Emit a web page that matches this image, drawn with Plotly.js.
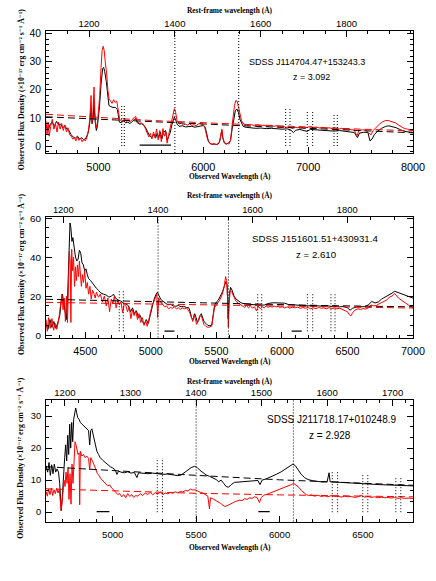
<!DOCTYPE html>
<html><head><meta charset="utf-8">
<script src="https://cdn.plot.ly/plotly-3.0.1.min.js"></script>
<style>html,body{margin:0;padding:0;background:#fff}#chart{width:436px;height:581px}</style>
</head><body><div id="chart"></div>
<script>
// ---------------- DATA ----------------
const objNames = ["SDSS J114704.47+153243.3", "SDSS J151601.51+430931.4", "SDSS J211718.17+010248.9"];
const redshifts = [3.092, 2.610, 2.928];
const obsRanges = [[4500, 8000], [4200, 7000], [4600, 6800]];
const fluxRanges = [[-2.49, 40.85], [-1.2, 60.8], [-2.9, 35.0]];
const obsTickStep = [1000, 500, 500];
const restTickStep = [200, 200, 100];
const fluxTickStep = [10, 20, 10];

// Panel 1 spectra [observed wavelength (A), flux]
const spec1Black = [[4500,7.5],[4520,5.5],[4540,7.8],[4560,8.5],[4580,7.0],[4600,8.8],[4620,7.5],[4640,7.8],[4660,6.5],[4680,7.2],[4700,6.0],[4720,5.5],[4740,4.0],[4760,3.2],[4780,2.8],[4800,3.5],[4820,2.5],[4840,3.0],[4860,2.2],[4880,2.8],[4900,4.5],[4915,7.5],[4930,13.5],[4940,8.0],[4950,10.0],[4958,16.0],[4968,9.0],[4980,5.5],[4990,7.0],[5000,10.0],[5010,14.0],[5025,22.0],[5040,27.5],[5050,28.0],[5060,26.5],[5075,23.0],[5090,17.5],[5100,14.5],[5120,14.0],[5140,13.7],[5160,13.8],[5180,13.0],[5190,11.0],[5200,8.5],[5220,8.3],[5240,9.0],[5260,8.2],[5280,8.5],[5300,8.0],[5320,8.7],[5340,9.6],[5355,9.8],[5370,8.3],[5390,7.8],[5410,7.9],[5430,7.5],[5450,6.5],[5470,4.8],[5490,3.5],[5510,3.0],[5530,4.2],[5545,2.8],[5560,4.5],[5575,3.0],[5590,5.0],[5605,2.5],[5620,4.8],[5640,5.5],[5655,2.0],[5670,3.5],[5685,4.8],[5700,7.5],[5712,9.5],[5724,10.3],[5735,9.5],[5750,7.8],[5770,7.0],[5800,7.2],[5830,6.8],[5860,6.9],[5890,7.0],[5920,6.7],[5950,7.0],[5980,7.3],[6000,7.3],[6020,6.5],[6035,4.0],[6050,1.5],[6070,0.8],[6090,0.6],[6110,0.7],[6130,0.5],[6150,1.0],[6165,3.0],[6175,5.5],[6185,3.0],[6200,1.2],[6220,0.8],[6240,1.0],[6260,2.0],[6275,6.0],[6290,10.0],[6305,12.5],[6320,13.2],[6335,12.0],[6350,9.5],[6365,8.0],[6380,7.0],[6400,6.7],[6450,6.5],[6500,6.3],[6550,6.4],[6600,6.2],[6650,6.3],[6700,6.1],[6750,6.0],[6800,6.1],[6830,5.8],[6860,4.8],[6880,5.6],[6920,5.9],[6960,5.6],[6990,5.2],[7020,5.9],[7060,5.8],[7100,5.9],[7150,5.7],[7200,5.5],[7250,5.3],[7300,5.5],[7350,5.2],[7400,5.0],[7440,4.8],[7470,3.0],[7490,4.6],[7530,4.9],[7570,4.8],[7590,1.8],[7610,2.5],[7630,4.0],[7660,5.2],[7700,6.3],[7740,7.0],[7770,7.2],[7800,7.0],[7840,6.5],[7880,5.8],[7920,5.2],[7960,5.0],[8000,4.8]];
const spec1Red = [[4500,9.0],[4510,4.0],[4520,8.5],[4530,3.5],[4545,7.0],[4560,9.5],[4575,6.0],[4590,8.0],[4605,5.0],[4620,8.5],[4635,6.0],[4650,8.0],[4665,5.5],[4680,7.5],[4695,5.0],[4710,6.5],[4725,4.0],[4740,3.5],[4755,2.5],[4770,3.0],[4785,1.8],[4800,3.2],[4815,2.0],[4830,2.8],[4845,1.5],[4860,2.5],[4875,1.8],[4890,3.0],[4905,5.5],[4918,10.0],[4930,18.0],[4938,8.0],[4948,12.0],[4958,21.0],[4966,12.0],[4978,6.5],[4990,8.0],[5000,12.0],[5012,18.0],[5025,28.0],[5035,34.0],[5045,35.5],[5055,34.0],[5065,30.0],[5078,26.0],[5090,20.0],[5100,17.0],[5115,16.0],[5130,15.2],[5145,16.5],[5160,15.5],[5175,16.0],[5185,13.5],[5195,10.5],[5205,9.0],[5220,9.5],[5235,8.8],[5250,9.6],[5265,8.7],[5280,9.2],[5300,8.6],[5320,9.4],[5340,10.2],[5355,10.6],[5370,8.8],[5390,8.0],[5410,8.2],[5430,7.6],[5450,6.0],[5465,4.5],[5480,3.2],[5495,4.5],[5510,2.5],[5525,5.0],[5540,3.0],[5555,6.0],[5570,2.2],[5585,5.5],[5600,1.5],[5615,6.2],[5630,3.5],[5645,5.0],[5655,1.0],[5670,4.0],[5685,6.5],[5700,9.5],[5712,12.0],[5724,13.3],[5736,12.0],[5750,9.0],[5770,7.8],[5790,8.2],[5810,7.5],[5830,7.8],[5850,7.4],[5870,7.9],[5890,7.3],[5910,7.6],[5930,7.2],[5950,7.8],[5970,8.0],[5990,7.8],[6010,7.2],[6025,5.0],[6040,2.5],[6060,1.0],[6080,0.6],[6100,0.9],[6120,0.5],[6140,0.8],[6155,1.5],[6168,4.0],[6178,6.0],[6188,3.0],[6200,1.2],[6215,0.6],[6230,0.9],[6245,0.7],[6260,2.0],[6272,6.5],[6285,11.0],[6298,14.5],[6310,16.2],[6322,16.0],[6335,14.0],[6350,11.0],[6365,9.0],[6380,8.0],[6400,7.6],[6430,7.4],[6460,7.6],[6490,7.2],[6520,7.5],[6550,7.1],[6580,7.4],[6610,7.0],[6640,7.3],[6670,7.0],[6700,7.2],[6730,6.8],[6760,7.0],[6790,6.6],[6820,6.9],[6850,6.2],[6870,6.7],[6900,6.5],[6930,6.8],[6960,6.4],[6990,6.7],[7020,6.9],[7050,6.5],[7080,6.7],[7110,6.4],[7140,6.6],[7170,6.3],[7200,6.5],[7230,6.2],[7260,6.4],[7290,6.0],[7320,6.3],[7350,6.0],[7380,6.1],[7410,5.8],[7440,5.7],[7465,3.6],[7485,5.5],[7520,5.8],[7550,5.6],[7580,4.5],[7600,4.0],[7620,5.5],[7650,6.8],[7680,7.8],[7710,8.6],[7740,9.1],[7770,9.0],[7800,8.6],[7830,8.3],[7860,7.5],[7890,6.8],[7920,6.2],[7950,6.0],[7980,5.6],[8000,5.5]];
const cont1Black = [[4500,10.4],[5000,9.5],[5500,8.6],[6000,7.8],[6500,7.0],[7000,6.3],[7500,5.6],[8000,4.7]];
const cont1Red = [[4500,11.3],[5000,10.1],[5500,9.1],[6000,8.3],[6500,7.5],[7000,6.8],[7500,6.0],[8000,5.4]];

// Panel 2 spectra
const spec2Black = [[4200,6.0],[4215,3.0],[4230,8.0],[4245,4.0],[4260,7.0],[4275,3.5],[4290,6.5],[4305,10.0],[4315,17.0],[4325,21.0],[4335,17.0],[4345,13.0],[4355,8.0],[4365,20.0],[4375,45.0],[4383,57.5],[4390,55.0],[4398,48.0],[4405,50.0],[4415,44.0],[4425,40.0],[4435,38.0],[4445,39.0],[4455,43.5],[4465,42.0],[4475,37.0],[4485,36.0],[4495,33.0],[4505,34.0],[4515,31.0],[4525,29.0],[4540,28.0],[4555,26.5],[4570,25.0],[4585,24.0],[4600,23.0],[4620,21.5],[4640,21.0],[4660,20.5],[4680,19.5],[4700,20.0],[4715,21.0],[4730,19.0],[4750,18.0],[4770,17.5],[4790,16.5],[4810,16.0],[4830,15.0],[4845,12.0],[4860,14.0],[4875,11.0],[4890,12.5],[4905,9.0],[4920,10.0],[4935,7.0],[4950,5.5],[4965,8.0],[4980,6.0],[4995,10.0],[5010,15.0],[5025,18.5],[5040,21.0],[5050,22.0],[5060,20.5],[5075,18.5],[5090,17.5],[5110,16.5],[5130,15.5],[5150,15.8],[5170,15.0],[5190,14.8],[5210,15.2],[5230,14.5],[5250,14.8],[5270,14.2],[5290,14.0],[5300,12.0],[5310,9.0],[5322,8.0],[5335,11.0],[5345,9.0],[5355,6.5],[5365,7.5],[5375,10.0],[5385,11.0],[5395,8.5],[5405,7.0],[5420,6.0],[5435,5.0],[5450,4.8],[5465,5.2],[5475,10.0],[5485,15.0],[5500,17.0],[5515,18.0],[5530,20.0],[5545,22.0],[5560,25.0],[5572,27.5],[5582,26.0],[5590,8.5],[5598,20.0],[5608,24.5],[5620,23.0],[5635,20.0],[5650,18.5],[5670,17.5],[5690,16.5],[5720,16.0],[5750,15.8],[5780,15.5],[5810,15.2],[5840,15.3],[5870,15.5],[5900,16.3],[5930,16.6],[5960,16.5],[5990,16.3],[6020,16.4],[6050,15.7],[6080,15.5],[6110,15.3],[6140,15.4],[6170,15.2],[6200,15.0],[6230,15.2],[6260,15.0],[6290,15.1],[6320,14.8],[6350,15.0],[6380,14.7],[6410,14.9],[6440,14.5],[6470,14.7],[6500,14.0],[6520,12.8],[6540,13.8],[6570,14.5],[6600,14.7],[6630,14.6],[6660,15.5],[6685,17.3],[6710,16.5],[6735,17.0],[6760,18.5],[6790,19.5],[6815,20.5],[6840,21.5],[6860,22.5],[6880,22.0],[6900,21.5],[6930,21.0],[6960,20.3],[7000,19.0]];
const spec2Red = [[4200,8.0],[4210,2.0],[4220,9.0],[4232,3.5],[4245,8.5],[4258,2.5],[4270,6.0],[4282,3.0],[4295,7.0],[4305,12.0],[4315,19.0],[4322,21.0],[4330,13.0],[4340,19.0],[4348,7.0],[4356,20.0],[4364,6.5],[4372,40.0],[4378,43.0],[4385,38.0],[4390,6.5],[4396,44.0],[4403,33.0],[4410,40.0],[4418,25.0],[4425,35.0],[4432,28.0],[4440,36.0],[4448,30.0],[4455,38.0],[4462,33.0],[4470,25.0],[4478,31.0],[4486,27.0],[4495,33.0],[4505,24.0],[4515,27.0],[4525,21.0],[4535,25.0],[4545,18.5],[4555,23.0],[4565,21.5],[4575,19.0],[4585,22.0],[4600,19.5],[4615,21.0],[4630,17.0],[4645,20.0],[4660,15.0],[4672,19.0],[4685,12.0],[4698,18.5],[4710,16.0],[4722,20.0],[4735,14.0],[4748,18.0],[4760,15.5],[4772,17.0],[4785,11.5],[4798,16.5],[4810,15.0],[4822,12.0],[4835,14.5],[4848,8.5],[4860,13.0],[4872,10.0],[4885,12.5],[4898,8.0],[4910,11.0],[4922,6.5],[4935,9.0],[4948,5.0],[4960,7.5],[4972,4.5],[4985,8.0],[4998,12.0],[5010,15.5],[5022,17.0],[5035,19.5],[5045,21.0],[5052,9.0],[5060,19.0],[5075,17.0],[5090,16.0],[5105,14.5],[5120,15.0],[5135,13.5],[5150,14.2],[5165,13.8],[5180,14.5],[5195,13.5],[5210,14.0],[5225,13.2],[5240,14.0],[5255,13.5],[5270,13.8],[5285,13.0],[5300,11.0],[5310,8.5],[5320,7.0],[5330,10.5],[5340,8.5],[5350,5.5],[5360,7.5],[5372,9.5],[5385,10.0],[5395,7.5],[5405,5.5],[5420,4.5],[5435,4.0],[5450,4.2],[5465,4.8],[5475,9.5],[5485,14.0],[5500,15.5],[5515,17.0],[5530,18.5],[5545,21.0],[5560,25.0],[5570,30.0],[5578,28.0],[5586,18.0],[5591,4.0],[5597,16.0],[5605,23.0],[5618,22.0],[5632,19.5],[5648,17.5],[5665,16.5],[5685,15.5],[5700,15.0],[5715,14.2],[5730,15.2],[5745,14.0],[5760,15.0],[5775,13.8],[5790,14.6],[5805,12.5],[5820,14.8],[5835,13.5],[5850,14.5],[5865,14.0],[5880,15.0],[5895,14.2],[5910,14.9],[5925,14.3],[5940,15.0],[5955,14.4],[5970,14.8],[5985,14.2],[6000,14.6],[6020,14.0],[6040,14.5],[6060,13.8],[6080,14.3],[6100,14.0],[6120,14.4],[6140,13.7],[6160,14.2],[6180,13.8],[6200,14.1],[6220,13.5],[6240,14.0],[6260,13.6],[6280,14.2],[6300,13.8],[6320,14.0],[6340,13.5],[6360,14.1],[6380,13.6],[6400,13.9],[6420,13.5],[6440,13.8],[6460,13.2],[6480,13.0],[6500,12.0],[6515,10.5],[6525,9.8],[6540,11.5],[6560,13.0],[6580,13.5],[6600,13.2],[6620,13.6],[6640,13.4],[6660,14.0],[6680,15.5],[6700,15.0],[6720,15.2],[6740,16.0],[6760,16.8],[6780,17.5],[6800,18.0],[6820,19.5],[6840,20.0],[6860,21.3],[6875,20.0],[6890,19.0],[6910,18.0],[6930,17.0],[6950,16.0],[6970,15.2],[7000,14.2]];
const cont2Black = [[4200,18.4],[4800,17.4],[5600,16.2],[6300,15.2],[7000,14.5]];
const cont2Red = [[4200,16.8],[4800,16.1],[5600,15.2],[6300,14.5],[7000,13.9]];

// Panel 3 spectra
const spec3Black = [[4600,14.5],[4610,12.5],[4618,15.5],[4626,11.5],[4634,14.8],[4642,12.0],[4650,15.0],[4658,12.5],[4666,13.5],[4675,12.5],[4682,9.0],[4688,2.0],[4692,0.5],[4698,5.0],[4705,13.5],[4712,17.0],[4718,21.0],[4724,16.0],[4730,24.0],[4736,18.0],[4742,27.5],[4748,20.0],[4754,28.0],[4760,22.0],[4766,29.0],[4772,30.5],[4778,32.5],[4784,31.0],[4790,29.5],[4798,29.0],[4806,28.0],[4815,27.5],[4825,27.0],[4835,26.5],[4845,26.0],[4855,25.5],[4862,21.0],[4868,25.5],[4875,26.0],[4885,23.5],[4895,21.0],[4905,19.0],[4915,18.0],[4925,17.0],[4940,16.2],[4955,15.5],[4970,14.8],[4985,14.2],[5000,13.8],[5015,13.2],[5025,11.8],[5035,12.8],[5050,12.5],[5070,12.3],[5090,12.6],[5110,12.2],[5130,12.4],[5145,10.8],[5155,12.3],[5180,12.1],[5210,12.0],[5240,12.2],[5270,11.9],[5300,11.8],[5330,11.9],[5360,11.6],[5390,11.4],[5410,11.6],[5430,12.3],[5450,13.2],[5470,13.9],[5490,14.3],[5505,14.0],[5520,13.2],[5540,12.3],[5560,11.6],[5580,11.2],[5600,10.8],[5620,10.2],[5635,9.5],[5650,10.0],[5665,9.0],[5680,8.0],[5695,7.8],[5710,8.6],[5730,9.3],[5760,9.4],[5790,9.6],[5820,9.5],[5850,9.8],[5870,9.9],[5883,8.6],[5895,10.0],[5920,10.4],[5950,11.0],[5980,11.8],[6010,12.6],[6040,13.6],[6060,14.5],[6080,15.0],[6095,14.5],[6110,13.2],[6130,11.8],[6150,10.8],[6170,10.2],[6200,9.8],[6230,9.6],[6260,9.4],[6285,9.5],[6297,12.3],[6303,9.5],[6330,9.4],[6360,9.3],[6400,9.3],[6440,9.2],[6480,9.0],[6520,8.9],[6560,8.7],[6600,8.6],[6650,8.5],[6700,8.4],[6750,8.3],[6800,8.2]];
const spec3Red = [[4600,6.5],[4608,5.0],[4616,7.2],[4624,5.5],[4632,7.5],[4640,5.2],[4648,7.0],[4656,5.8],[4664,7.5],[4672,6.0],[4680,7.2],[4686,3.0],[4690,0.5],[4696,3.0],[4702,7.0],[4708,10.0],[4714,8.0],[4720,12.5],[4726,9.0],[4732,14.0],[4738,4.0],[4744,12.0],[4750,2.5],[4756,15.0],[4762,9.0],[4768,18.5],[4774,22.0],[4780,21.0],[4786,19.5],[4792,18.0],[4798,18.5],[4802,2.3],[4806,19.0],[4815,17.5],[4825,18.0],[4835,17.0],[4845,17.5],[4855,16.8],[4862,13.2],[4868,17.0],[4878,16.0],[4888,15.0],[4898,13.5],[4908,12.0],[4918,11.5],[4928,10.5],[4938,10.0],[4948,9.3],[4958,9.0],[4970,8.2],[4982,8.5],[4994,7.5],[5006,7.0],[5018,6.2],[5030,5.5],[5042,5.8],[5054,4.8],[5066,5.5],[5078,4.5],[5090,5.8],[5102,4.9],[5114,5.5],[5126,4.6],[5138,5.2],[5150,5.0],[5165,5.8],[5180,5.2],[5195,6.0],[5210,5.5],[5225,6.2],[5240,5.4],[5255,6.1],[5270,5.6],[5285,6.3],[5300,5.5],[5315,6.0],[5330,5.7],[5345,6.2],[5360,5.9],[5375,6.4],[5390,6.0],[5405,6.5],[5420,6.3],[5435,6.8],[5450,6.6],[5465,7.2],[5480,6.9],[5495,7.0],[5510,6.5],[5525,6.2],[5540,6.0],[5555,5.5],[5570,5.0],[5580,1.0],[5586,4.5],[5600,4.2],[5615,3.8],[5630,3.2],[5645,2.8],[5660,2.2],[5672,1.8],[5685,2.0],[5700,2.5],[5715,2.8],[5730,3.2],[5745,3.5],[5760,3.8],[5775,3.6],[5790,4.2],[5805,4.0],[5820,4.5],[5835,4.3],[5850,4.8],[5865,4.6],[5880,3.0],[5890,4.5],[5905,5.3],[5920,5.5],[5935,5.8],[5950,6.0],[5965,6.4],[5980,6.6],[5995,7.0],[6010,7.2],[6025,7.6],[6040,7.8],[6055,8.2],[6070,8.6],[6085,9.0],[6100,8.5],[6115,7.8],[6130,6.8],[6145,6.0],[6160,5.5],[6175,5.2],[6190,5.4],[6210,5.0],[6230,5.3],[6250,4.9],[6270,5.1],[6290,4.8],[6310,5.2],[6330,4.9],[6350,5.0],[6370,4.7],[6390,5.0],[6410,4.8],[6430,4.9],[6450,4.6],[6470,4.8],[6490,5.3],[6510,4.7],[6530,4.9],[6550,4.6],[6570,4.8],[6590,4.5],[6610,4.7],[6630,4.5],[6650,4.6],[6670,4.4],[6690,4.6],[6710,4.3],[6730,4.5],[6750,4.3],[6770,4.4],[6800,4.3]];
const cont3Black = [[4600,14.2],[5000,12.9],[5500,11.5],[6000,10.1],[6500,9.0],[6800,8.4]];
const cont3Red = [[4600,7.3],[5000,6.6],[5500,5.9],[6000,5.4],[6500,5.0],[6800,4.8]];

// Emission-line markers (observed A, full height) and absorption doublets [x1, x2, top]
const lineMarks = [[5729, 6338], [5055, 5592], [5500, 6083]];
const absPairs = [
  [[5222,5247,14.3],[6786,6827,13.9],[6992,7043,12.7],[7247,7278,11.6]],
  [[4759,4790,22.6],[5815,5846,21.0],[6194,6235,21.0],[6374,6405,21.0]],
  [[5267,5298,16.9],[6316,6348,12.8],[6499,6529,11.7],[6697,6727,10.7]]
];
const absBase = [0, 2, 0];
const segments = [[[5393,5692,0.3]], [[5104,5180,2.1],[6074,6151,2.1]], [[4904,4980,0.2],[5873,5941,0.2]]];

// ---------------- LAYOUT ----------------
const W = 436, H = 581, L = 46, R = 23;
const plotTop = [31.3, 216.5, 400];
const plotBot = [153, 337.5, 521.5];
const botTickFont = [10.9, 10.8, 9.6];
const topTickFont = [9.5, 9.4, 9.6];
const yTickFont = [10.3, 9.9, 9.3];
const nameFont = [9, 9.7, 10];
const namePos = [[307, 62.3, 311, 76.7], [315.3, 238.3, 316.3, 254], [332, 419.3, 329.7, 435]];
const topTitleY = [10.7, 195, 381];
const botTitleY = [176.7, 361.7, 547.3];
const titleFont = {family: "Liberation Serif, DejaVu Serif, serif", size: 7.4, color: "#000"};
const yTitleFont = {family: "Liberation Serif, DejaVu Serif, serif", size: 7.8, color: "#000"};
const sansFam = "Liberation Sans, Arial, sans-serif";

const px2x = p => (p - L) / (W - L - R);
const py2y = p => 1 - p / H;

const data = [];
const layout = {
  width: W, height: H, margin: {l: L, r: R, t: 0, b: 0, pad: 0},
  paper_bgcolor: "#fff", plot_bgcolor: "#fff", showlegend: false,
  shapes: [], annotations: [], font: {family: sansFam, color: "#000"}
};

const specs = [[spec1Black, spec1Red, cont1Black, cont1Red], [spec2Black, spec2Red, cont2Black, cont2Red], [spec3Black, spec3Red, cont3Black, cont3Red]];
const minorObs = [200, 100, 100], minorRest = [50, 50, 20], minorFlux = [2, 5, 10/3];

for (let i = 0; i < 3; i++) {
  const xb = "x" + (i === 0 ? "" : (2*i + 1));
  const xt = "x" + (2*i + 2);
  const yy = "y" + (i === 0 ? "" : (i + 1));
  const xbName = "xaxis" + (i === 0 ? "" : (2*i + 1));
  const xtName = "xaxis" + (2*i + 2);
  const yName = "yaxis" + (i === 0 ? "" : (i + 1));
  const z1p = 1 + redshifts[i];
  const font = s => ({family: sansFam, size: s, color: "#000"});
  const common = {ticks: "inside", ticklen: 6, tickwidth: 1, tickcolor: "#000", showgrid: false, zeroline: false};

  layout[xbName] = Object.assign({}, common, {
    domain: [0, 1], anchor: yy, range: obsRanges[i], autorange: false, tickfont: font(botTickFont[i]),
    tick0: 0, dtick: obsTickStep[i], showline: true, linecolor: "#000", linewidth: 1, mirror: true,
    ticklabelstandoff: 4,
    minor: {ticks: "inside", ticklen: 3, tickcolor: "#000", dtick: minorObs[i], tick0: 0, showgrid: false}
  });
  layout[xtName] = Object.assign({}, common, {
    overlaying: xb, side: "top", anchor: yy, autorange: false, tickfont: font(topTickFont[i]),
    range: [obsRanges[i][0] / z1p, obsRanges[i][1] / z1p],
    tick0: 0, dtick: restTickStep[i], showline: false, ticklabelstandoff: 1,
    minor: {ticks: "inside", ticklen: 3, tickcolor: "#000", dtick: minorRest[i], tick0: 0, showgrid: false}
  });
  layout[yName] = Object.assign({}, common, {
    domain: [py2y(plotBot[i]), py2y(plotTop[i])], anchor: xb, range: fluxRanges[i], autorange: false,
    tickfont: font(yTickFont[i]),
    tick0: 0, dtick: fluxTickStep[i], showline: true, linecolor: "#000", linewidth: 1, mirror: "ticks",
    ticklabelstandoff: 2,
    minor: {ticks: "inside", ticklen: 3, tickcolor: "#000", dtick: minorFlux[i], tick0: 0, showgrid: false}
  });

  const [sb, sr, cb, cr] = specs[i];
  const tr = (arr, color, dash) => ({
    type: "scatter", mode: "lines", x: arr.map(p => p[0]), y: arr.map(p => p[1]),
    xaxis: xb, yaxis: yy, hoverinfo: "skip",
    line: {color: color, width: 1, dash: dash || "solid"}
  });
  data.push(tr(sb, "#000"));
  data.push(tr(sr, "#ff0000"));
  data.push(tr(cb, "#000", "7px,4px"));
  data.push(tr(cr, "#ff0000", "7px,4px"));
  // empty trace on the rest-frame axis so it is drawn
  data.push({type: "scatter", mode: "lines", x: [], y: [], xaxis: xt, yaxis: yy, hoverinfo: "skip"});

  // full-height dotted line markers
  lineMarks[i].forEach(xv => layout.shapes.push({
    type: "line", xref: xb, yref: yy + " domain", x0: xv, x1: xv, y0: 0, y1: 1,
    line: {color: "#000", width: 1, dash: "1px,2px"}, layer: "above"
  }));
  // short dotted doublet markers
  absPairs[i].forEach(p => [p[0], p[1]].forEach(xv => layout.shapes.push({
    type: "line", xref: xb, yref: yy, x0: xv, x1: xv, y0: absBase[i], y1: p[2],
    line: {color: "#000", width: 1, dash: "1px,2px"}, layer: "above"
  })));
  // horizontal segments
  segments[i].forEach(s => layout.shapes.push({
    type: "line", xref: xb, yref: yy, x0: s[0], x1: s[1], y0: s[2], y1: s[2],
    line: {color: "#000", width: 1.3}, layer: "above"
  }));

  // object name and redshift
  const np = namePos[i];
  layout.annotations.push({xref: "paper", yref: "paper", x: px2x(np[0]), y: py2y(np[1]), xanchor: "center", yanchor: "middle",
    text: objNames[i], showarrow: false, font: font(nameFont[i])});
  layout.annotations.push({xref: "paper", yref: "paper", x: px2x(np[2]), y: py2y(np[3]), xanchor: "center", yanchor: "middle",
    text: "z = " + redshifts[i].toFixed(3), showarrow: false, font: font(nameFont[i])});

  // axis titles
  layout.annotations.push({xref: "paper", yref: "paper", x: px2x(229.5), y: py2y(topTitleY[i]), xanchor: "center", yanchor: "middle",
    text: "<b>Rest-frame wavelength (Å)</b>", showarrow: false, font: titleFont});
  layout.annotations.push({xref: "paper", yref: "paper", x: px2x(229.5), y: py2y(botTitleY[i]), xanchor: "center", yanchor: "middle",
    text: "<b>Observed Wavelength (Å)</b>", showarrow: false, font: titleFont});
  layout.annotations.push({xref: "paper", yref: "paper", x: px2x(21), y: py2y((plotTop[i] + plotBot[i]) / 2 - 2), xanchor: "center", yanchor: "middle",
    textangle: -90, text: "<b>Observed Flux Density (×10⁻¹⁷ erg cm⁻² s⁻¹ Å⁻¹)</b>",
    showarrow: false, font: yTitleFont});
}

Plotly.newPlot("chart", data, layout, {staticPlot: true, displayModeBar: false});
</script></body></html>
